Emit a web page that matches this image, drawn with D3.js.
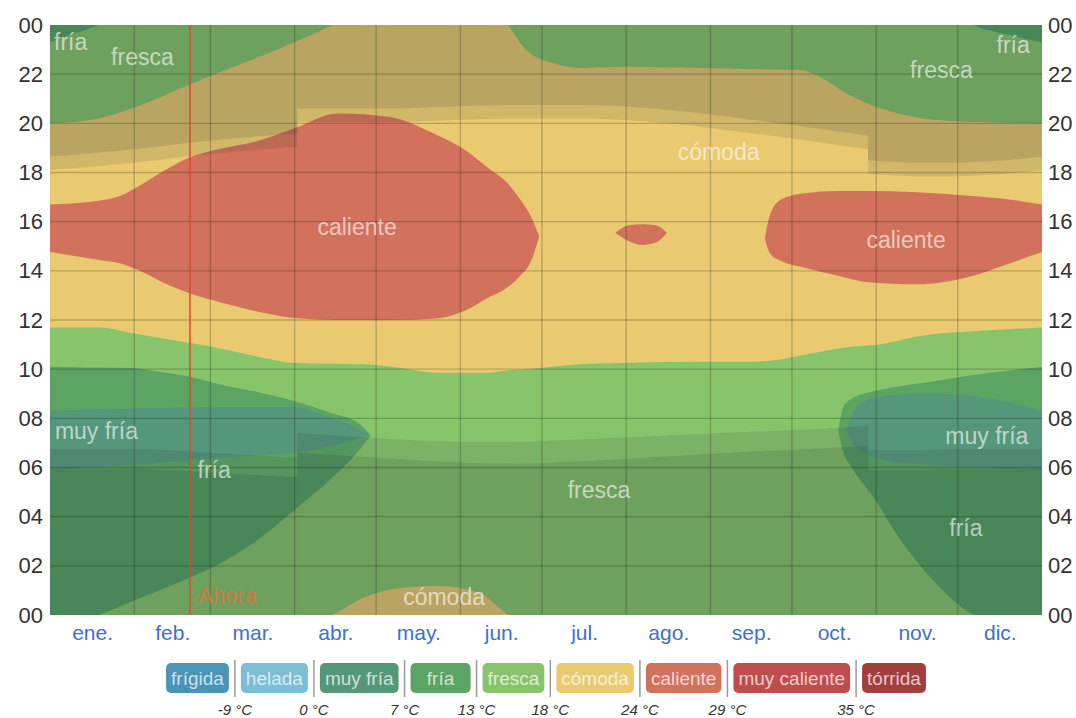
<!DOCTYPE html>
<html>
<head>
<meta charset="utf-8">
<script src="https://cdn.jsdelivr.net/npm/d3@7/dist/d3.min.js"></script>
<style>
  body { margin: 0; background: #fff; }
  svg { display: block; font-family: "Liberation Sans", Arial, sans-serif; }
</style>
</head>
<body>
<svg id="chart" width="1076" height="718"></svg>
<script>
// Temperatura por hora del día (eje y) y día del año (eje x), con sombreado de noche / crepúsculo.

const months = ["ene.", "feb.", "mar.", "abr.", "may.", "jun.", "jul.", "ago.", "sep.", "oct.", "nov.", "dic."];
const monthStarts = [0, 31, 59, 90, 120, 151, 181, 212, 243, 273, 304, 334, 365];
const hourTicks = [0, 2, 4, 6, 8, 10, 12, 14, 16, 18, 20, 22, 24];

const categories = ["frígida", "helada", "muy fría", "fría", "fresca", "cómoda", "caliente", "muy caliente", "tórrida"];
const categoryColors = ["#4a94b5", "#7cbed6", "#55977a", "#5ca464", "#88c46c", "#e9ca70", "#d2725c", "#bf4d4d", "#a23e3e"];
const thresholds = ["-9 °C", "0 °C", "7 °C", "13 °C", "18 °C", "24 °C", "29 °C", "35 °C"];

// [día del año, hora en que se supera 18 °C, hora en que se baja de 18 °C (>24 = pasada la medianoche)]
const comodaBand = [
  [0, 11.7, 20.0], [18, 11.7, 20.2], [30, 11.47, 20.6], [51, 11.07, 21.56], [60, 10.9, 21.97],
  [77, 10.5, 22.7], [90, 10.25, 23.3], [104, 10.22, 24.0], [116, 10.2, 24.73], [129, 10.05, 25.1],
  [143, 9.85, 25.18], [158, 9.85, 24.9], [165, 9.9, 24.33], [168, 9.95, 24.05], [175, 10.0, 23.0],
  [185, 10.1, 22.45], [195, 10.2, 22.25], [210, 10.25, 22.3], [239, 10.3, 22.25], [259, 10.3, 22.2],
  [276, 10.55, 22.17], [283, 10.7, 21.9], [294, 10.9, 21.16], [305, 11.0, 20.63], [320, 11.35, 20.22],
  [341, 11.55, 20.05], [365, 11.7, 20.0]
];

// horas con temperatura >= 24 °C
const calienteBands = [
  [[0, 14.77, 16.7], [18, 14.44, 16.85], [26, 14.3, 17.05], [32, 14.05, 17.4], [44, 13.4, 18.2],
   [51, 13.1, 18.6], [60, 12.8, 18.9], [77, 12.33, 19.3], [90, 12.08, 19.8], [106, 12.0, 20.4],
   [125, 12.0, 20.26], [141, 12.05, 19.6], [153, 12.4, 18.9], [161, 12.9, 18.2], [168, 13.3, 17.6],
   [173, 13.8, 16.9], [177, 14.4, 16.2], [180, 15.4, 15.4]],
  [[208, 15.55, 15.55], [213, 15.2, 15.85], [218, 15.05, 15.9], [223, 15.15, 15.85], [227, 15.55, 15.55]],
  [[263, 15.3, 15.3], [265, 14.7, 16.3], [269, 14.4, 16.9], [277, 14.15, 17.15], [290, 13.8, 17.25],
   [300, 13.55, 17.25], [319, 13.45, 17.2], [338, 13.75, 17.05], [353, 14.3, 16.9], [365, 14.77, 16.7]]
];

// horas con temperatura < 13 °C  [día, inicio (negativo = noche anterior), fin por la mañana]
const friaBands = [
  [[0, -0.7, 10.1], [9, -0.35, 10.08], [18, 0.0, 10.07], [30, 0.55, 10.05], [40, 1.0, 9.9],
   [51, 1.5, 9.7], [60, 1.95, 9.45], [77, 3.1, 9.05], [90, 4.27, 8.7], [104, 5.6, 8.2],
   [113, 6.6, 7.85], [118, 7.3, 7.3]],
  [[290, 7.5, 7.5], [292, 6.6, 8.5], [295, 6.0, 8.8], [303, 4.8, 9.1], [312, 3.2, 9.3],
   [325, 1.4, 9.5], [339, 0.05, 9.75], [353, -0.4, 9.95], [365, -0.7, 10.1]]
];

// horas con temperatura < 7 °C
const muyFriaBands = [
  [[0, 5.9, 8.3], [30, 6.1, 8.4], [61, 6.4, 8.45], [90, 6.6, 8.45], [104, 6.9, 8.0],
   [113, 7.15, 7.6], [117, 7.35, 7.35]],
  [[293, 7.5, 7.5], [297, 6.8, 8.5], [307, 6.3, 8.9], [325, 6.1, 9.0], [349, 5.95, 8.75], [365, 5.9, 8.3]]
];

// [día, alba, salida del sol, puesta del sol, anochecer]  (saltos por horario de verano)
const daylight = [
  [0, 5.95, 6.75, 18.1, 18.65], [31, 5.95, 6.75, 18.4, 18.95], [59, 5.8, 6.6, 18.75, 19.3],
  [91, 5.6, 6.4, 19.05, 19.6],
  [91, 6.6, 7.4, 20.05, 20.6], [120, 6.4, 7.2, 20.05, 20.6], [151, 6.2, 7.05, 20.15, 20.7],
  [172, 6.15, 7.05, 20.2, 20.75], [196, 6.25, 7.15, 20.2, 20.75], [227, 6.45, 7.3, 20.0, 20.55],
  [258, 6.65, 7.45, 19.6, 20.15], [288, 6.8, 7.6, 19.15, 19.7], [301, 6.9, 7.7, 18.95, 19.5],
  [301, 5.9, 6.7, 17.95, 18.5], [319, 5.9, 6.7, 17.85, 18.4], [334, 5.95, 6.75, 17.85, 18.4],
  [365, 5.95, 6.75, 18.1, 18.65]
];

const ahoraDay = 51.5;

// [texto, día, hora, alineación]
const regionLabels = [
  ["fría", 1.5, 23.3, "start"], ["fresca", 34, 22.7, "middle"], ["caliente", 113, 15.8, "middle"],
  ["cómoda", 246, 18.85, "middle"], ["caliente", 315, 15.25, "middle"], ["fresca", 328, 22.17, "middle"],
  ["fría", 360.5, 23.2, "end"], ["muy fría", 1.8, 7.5, "start"], ["fría", 60.4, 5.9, "middle"],
  ["fresca", 202, 5.1, "middle"], ["fría", 337, 3.55, "middle"], ["muy fría", 360, 7.3, "end"],
  ["cómoda", 145, 0.73, "middle"]
];

const M = { left: 50, right: 1042, top: 25, bottom: 615 };
const color = (name) => categoryColors[categories.indexOf(name)];

const svg = d3.select("#chart");
const x = d3.scaleLinear().domain([0, 365]).range([M.left, M.right]);
const y = d3.scaleLinear().domain([0, 24]).range([M.bottom, M.top]);

svg.append("defs").append("clipPath").attr("id", "plot-clip")
  .append("rect").attr("x", M.left).attr("y", M.top)
  .attr("width", M.right - M.left).attr("height", M.bottom - M.top);

const plot = svg.append("g").attr("clip-path", "url(#plot-clip)");

// fondo: fresca
plot.append("rect").attr("x", M.left).attr("y", M.top)
  .attr("width", M.right - M.left).attr("height", M.bottom - M.top)
  .attr("fill", color("fresca"));

function band(rows, fill) {
  // se dibuja tres veces desplazada un día para que las horas pasen la medianoche
  [-24, 0, 24].forEach((shift) => {
    const area = d3.area()
      .x((d) => x(d[0]))
      .y0((d) => y(d[1] + shift))
      .y1((d) => y(d[2] + shift))
      .curve(d3.curveMonotoneX);
    plot.append("path").attr("d", area(rows)).attr("fill", fill);
  });
}

band(comodaBand, color("cómoda"));
calienteBands.forEach((b) => band(b, color("caliente")));
friaBands.forEach((b) => band(b, color("fría")));
muyFriaBands.forEach((b) => band(b, color("muy fría")));

// sombreado de noche y crepúsculo, cortado en los cambios de hora
const segs = [[]];
daylight.forEach((r, i) => {
  if (i > 0 && r[0] === daylight[i - 1][0]) segs.push([]);
  segs[segs.length - 1].push(r);
});
const shade = "#142030";
segs.forEach((seg) => {
  const layers = [
    { lo: () => 0, hi: (d) => d[2], op: 0.11 },
    { lo: () => 0, hi: (d) => d[1], op: 0.12 },
    { lo: (d) => d[3], hi: () => 24, op: 0.11 },
    { lo: (d) => d[4], hi: () => 24, op: 0.12 }
  ];
  layers.forEach((l) => {
    const area = d3.area().x((d) => x(d[0])).y0((d) => y(l.lo(d))).y1((d) => y(l.hi(d)))
      .curve(d3.curveMonotoneX);
    plot.append("path").attr("d", area(seg)).attr("fill", shade).attr("fill-opacity", l.op);
  });
});

// rejilla
plot.append("g").selectAll("line").data(monthStarts.slice(1, -1)).join("line")
  .attr("x1", (d) => x(d)).attr("x2", (d) => x(d)).attr("y1", M.top).attr("y2", M.bottom)
  .attr("stroke", "rgba(0,0,0,0.2)").attr("stroke-width", 1.4);
plot.append("g").selectAll("line").data(hourTicks.slice(1, -1)).join("line")
  .attr("x1", M.left).attr("x2", M.right).attr("y1", (d) => y(d)).attr("y2", (d) => y(d))
  .attr("stroke", "rgba(0,0,0,0.2)").attr("stroke-width", 1.4);

// etiquetas de zonas
plot.append("g").selectAll("text").data(regionLabels).join("text")
  .attr("x", (d) => x(d[1])).attr("y", (d) => y(d[2]))
  .attr("text-anchor", (d) => d[3]).attr("dominant-baseline", "central")
  .attr("font-size", 23).attr("fill", "rgba(255,255,255,0.62)")
  .text((d) => d[0]);

// "Ahora"
plot.append("line").attr("x1", x(ahoraDay)).attr("x2", x(ahoraDay))
  .attr("y1", M.top).attr("y2", M.bottom)
  .attr("stroke", "#e0452f").attr("stroke-width", 2).attr("stroke-opacity", 0.75);
plot.append("text").attr("x", x(ahoraDay) + 8).attr("y", y(0.5))
  .attr("font-size", 22).attr("fill", "#e0733a").attr("fill-opacity", 0.9)
  .text("Ahora");

// ejes
const fmtHour = (h) => String(h % 24).padStart(2, "0");
function styleAxis(g, size, fill) {
  g.select(".domain").remove();
  g.selectAll("text").attr("font-size", size).attr("fill", fill)
    .attr("font-family", "\"Liberation Sans\", Arial, sans-serif");
}
svg.append("g").attr("transform", `translate(${M.left},0)`)
  .call(d3.axisLeft(y).tickValues(hourTicks).tickFormat(fmtHour).tickSize(0).tickPadding(7))
  .call((g) => styleAxis(g, 22, "#333"));
svg.append("g").attr("transform", `translate(${M.right},0)`)
  .call(d3.axisRight(y).tickValues(hourTicks).tickFormat(fmtHour).tickSize(0).tickPadding(6))
  .call((g) => styleAxis(g, 22, "#333"));
const mids = months.map((m, i) => (monthStarts[i] + monthStarts[i + 1]) / 2);
svg.append("g").attr("transform", `translate(0,${M.bottom})`)
  .call(d3.axisBottom(x).tickValues(mids).tickFormat((d, i) => months[i]).tickSize(0).tickPadding(10))
  .call((g) => styleAxis(g, 21, "#3f6fcf"));

// leyenda
const legend = svg.append("g");
const fontSize = 19, pad = 5, gap = 12, minW = 60, boxY = 663, boxH = 30;
const probe = legend.append("text").attr("font-size", fontSize);
const widths = categories.map((c) => {
  probe.text(c);
  return Math.max(minW, probe.node().getComputedTextLength() + 2 * pad);
});
probe.remove();
const total = d3.sum(widths) + gap * (widths.length - 1);
let cx = 546 - total / 2;
const boxes = categories.map((c, i) => {
  const b = { name: c, x: cx, w: widths[i], fill: categoryColors[i] };
  cx += widths[i] + gap;
  return b;
});
legend.selectAll("rect").data(boxes).join("rect")
  .attr("x", (d) => d.x).attr("y", boxY).attr("width", (d) => d.w).attr("height", boxH)
  .attr("rx", 5).attr("fill", (d) => d.fill);
legend.selectAll("text.name").data(boxes).join("text").attr("class", "name")
  .attr("x", (d) => d.x + d.w / 2).attr("y", boxY + boxH / 2)
  .attr("text-anchor", "middle").attr("dominant-baseline", "central")
  .attr("font-size", fontSize).attr("fill", "rgba(255,255,255,0.72)")
  .text((d) => d.name);
const seps = thresholds.map((t, i) => ({ t, x: boxes[i].x + boxes[i].w + gap / 2 }));
legend.selectAll("line").data(seps).join("line")
  .attr("x1", (d) => d.x).attr("x2", (d) => d.x).attr("y1", boxY - 3).attr("y2", boxY + boxH + 4)
  .attr("stroke", "#9a9a9a").attr("stroke-width", 1.5);
legend.selectAll("text.temp").data(seps).join("text").attr("class", "temp")
  .attr("x", (d) => d.x).attr("y", 715).attr("text-anchor", "middle")
  .attr("font-size", 15).attr("font-style", "italic").attr("fill", "#333")
  .text((d) => d.t);
</script>
</body>
</html>
